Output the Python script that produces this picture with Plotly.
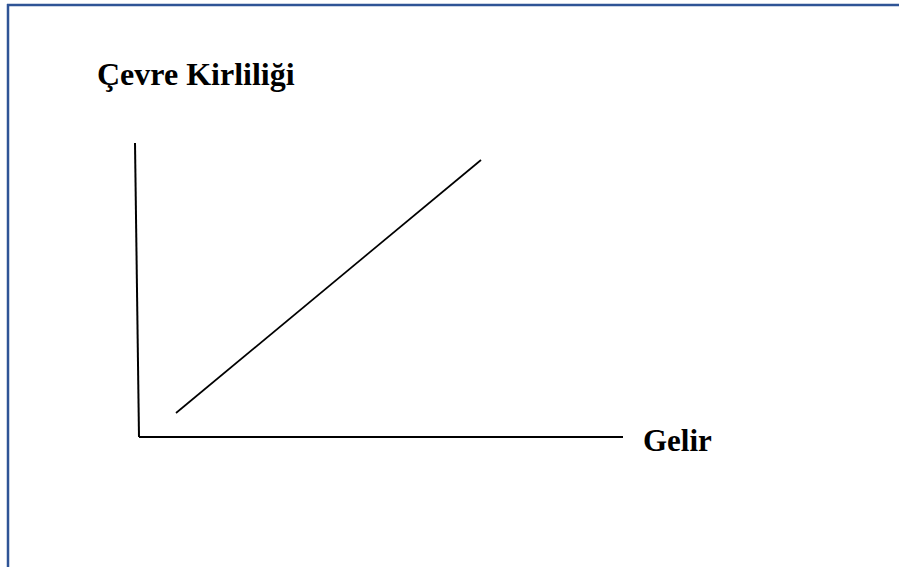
import plotly.graph_objects as go

# Conceptual diagram data (units: income / pollution, origin at the axis corner)
axis_x_line_x = [0.0, 4.84]
axis_x_line_y = [0.0, 0.0]
axis_y_line_x = [-0.04, 0.0]
axis_y_line_y = [2.94, 0.0]
income = [0.37, 3.42]
pollution = [0.24, 2.77]

title_text = "Çevre Kirliliği"
x_label = "Gelir"

W, H = 899, 567
fig = go.Figure()

line_style = dict(color="black", width=2)
fig.add_trace(go.Scatter(x=axis_y_line_x, y=axis_y_line_y, mode="lines",
                         line=line_style, hoverinfo="skip"))
fig.add_trace(go.Scatter(x=axis_x_line_x, y=axis_x_line_y, mode="lines",
                         line=line_style, hoverinfo="skip"))
fig.add_trace(go.Scatter(x=income, y=pollution, mode="lines",
                         line=dict(color="black", width=1.7), hoverinfo="skip"))

font = dict(family="Liberation Serif, Times New Roman, serif", color="black")
fig.add_annotation(text="<b>" + title_text + "</b>", xref="paper", yref="paper",
                   x=95 / W, y=1 - 74 / H, xanchor="left", yanchor="middle",
                   showarrow=False, font=dict(size=32, **font))
fig.add_annotation(text="<b>" + x_label + "</b>", xref="paper", yref="paper",
                   x=641 / W, y=1 - 440 / H, xanchor="left", yanchor="middle",
                   showarrow=False, font=dict(size=31, **font))

border = "#2F5496"
fig.add_shape(type="line", xref="paper", yref="paper", x0=7 / W, x1=1, y0=1 - 5 / H, y1=1 - 5 / H,
              line=dict(color=border, width=2.5))
fig.add_shape(type="line", xref="paper", yref="paper", x0=8 / W, x1=8 / W, y0=1 - 4 / H, y1=0,
              line=dict(color=border, width=2.5))

fig.update_layout(
    width=W, height=H, margin=dict(l=0, r=0, t=0, b=0),
    paper_bgcolor="white", plot_bgcolor="white", showlegend=False,
    xaxis=dict(range=[-1.39, 7.60], visible=False, fixedrange=True),
    yaxis=dict(range=[-1.30, 4.37], visible=False, fixedrange=True),
)
fig.write_html("out.html", config={"displayModeBar": False},
               post_script="document.body.style.margin='0';document.body.style.overflow='hidden';")
